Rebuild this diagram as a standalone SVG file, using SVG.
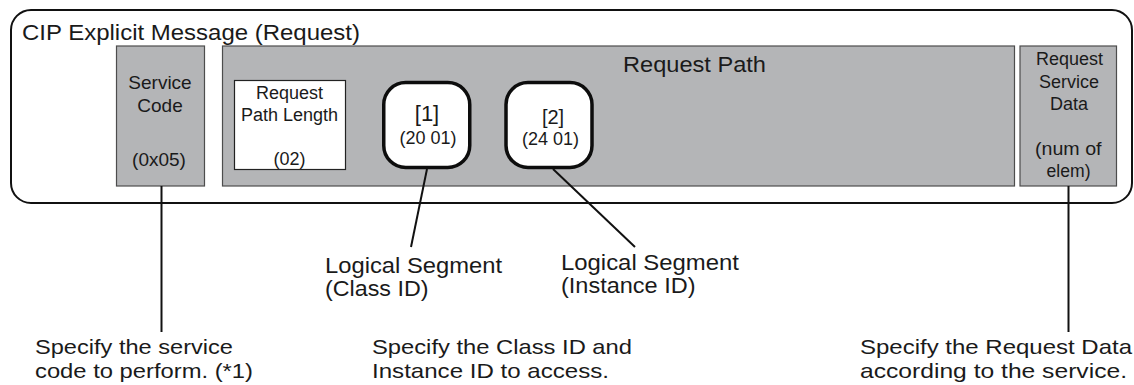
<svg xmlns="http://www.w3.org/2000/svg" width="1134" height="385" viewBox="0 0 1134 385">
<style>
text{font-family:"Liberation Sans",Arial,Helvetica,sans-serif;fill:#1a1a1a}
.gray{fill:#b4b5b7;stroke:#4d4d4d;stroke-width:1.2}
.seg{fill:#fff;stroke:#0d0d0d;stroke-width:3.5}
.conn{stroke:#111;stroke-width:2;fill:none}
.c{text-anchor:middle}
</style>
<rect width="1134" height="385" fill="#fff"/>
<g id="message-frame">
<rect x="11" y="10" width="1121" height="193" rx="20" ry="20" fill="#fff" stroke="#111" stroke-width="2"/>
<text x="22" y="40" font-size="22" textLength="338" lengthAdjust="spacingAndGlyphs">CIP Explicit Message (Request)</text>
</g>
<g id="service-code">
<rect class="gray" x="116.5" y="46" width="88" height="140"/>
<text class="c" font-size="19"><tspan x="160" y="89">Service</tspan><tspan x="160" y="112">Code</tspan><tspan x="159" y="166">(0x05)</tspan></text>
</g>
<g id="request-path">
<rect class="gray" x="222.5" y="46" width="792" height="140"/>
<text x="623" y="72" font-size="22" textLength="143" lengthAdjust="spacingAndGlyphs">Request Path</text>
</g>
<g id="request-path-length">
<rect x="234.5" y="80.5" width="111" height="89" fill="#fff" stroke="#222" stroke-width="1.2"/>
<text class="c" font-size="18"><tspan x="289.5" y="99">Request</tspan><tspan x="289.5" y="121">Path Length</tspan><tspan x="289.5" y="165">(02)</tspan></text>
</g>
<g id="segment-1">
<rect class="seg" x="383.75" y="82.5" width="86" height="85" rx="22" ry="22"/>
<text class="c" x="427" y="121" font-size="22">[1]</text>
<text class="c" x="428" y="144" font-size="18">(20 01)</text>
</g>
<g id="segment-2">
<rect class="seg" x="506" y="82.5" width="86" height="85" rx="22" ry="22"/>
<text class="c" x="553" y="124" font-size="20">[2]</text>
<text class="c" x="550.5" y="145" font-size="18">(24 01)</text>
</g>
<g id="request-service-data">
<rect class="gray" x="1020" y="46" width="96.5" height="140"/>
<text font-size="17.5"><tspan x="1036" y="65" textLength="67" lengthAdjust="spacingAndGlyphs">Request</tspan><tspan x="1039" y="88" textLength="60" lengthAdjust="spacingAndGlyphs">Service</tspan><tspan x="1050" y="110" textLength="38" lengthAdjust="spacingAndGlyphs">Data</tspan><tspan x="1035" y="155" textLength="66.5" lengthAdjust="spacingAndGlyphs">(num of</tspan><tspan x="1046.5" y="177" textLength="44" lengthAdjust="spacingAndGlyphs">elem)</tspan></text>
</g>
<g id="connectors">
<line class="conn" x1="161.5" y1="186" x2="161.5" y2="332"/>
<line class="conn" x1="427" y1="169" x2="411" y2="247"/>
<line class="conn" x1="553" y1="169" x2="635" y2="247"/>
<line class="conn" x1="1068.5" y1="186" x2="1068.5" y2="332"/>
</g>
<g id="label-class-id">
<text font-size="22"><tspan x="325" y="273" textLength="177" lengthAdjust="spacingAndGlyphs">Logical Segment</tspan><tspan x="325" y="296" textLength="103.5" lengthAdjust="spacingAndGlyphs">(Class ID)</tspan></text>
</g>
<g id="label-instance-id">
<text font-size="22"><tspan x="561" y="270" textLength="178" lengthAdjust="spacingAndGlyphs">Logical Segment</tspan><tspan x="561" y="293" textLength="134.5" lengthAdjust="spacingAndGlyphs">(Instance ID)</tspan></text>
</g>
<g id="note-service-code">
<text font-size="21"><tspan x="35" y="354" textLength="198" lengthAdjust="spacingAndGlyphs">Specify the service</tspan><tspan x="35" y="378" textLength="218" lengthAdjust="spacingAndGlyphs">code to perform. (*1)</tspan></text>
</g>
<g id="note-path">
<text font-size="21"><tspan x="372" y="354" textLength="260" lengthAdjust="spacingAndGlyphs">Specify the Class ID and</tspan><tspan x="372" y="378" textLength="237" lengthAdjust="spacingAndGlyphs">Instance ID to access.</tspan></text>
</g>
<g id="note-data">
<text font-size="21"><tspan x="860" y="354" textLength="272" lengthAdjust="spacingAndGlyphs">Specify the Request Data</tspan><tspan x="860" y="378" textLength="267" lengthAdjust="spacingAndGlyphs">according to the service.</tspan></text>
</g>
</svg>
